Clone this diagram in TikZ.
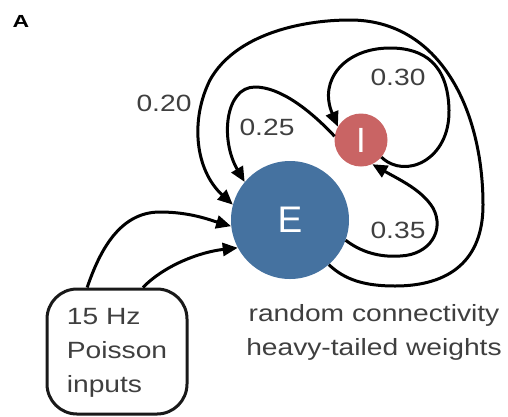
\documentclass[tikz,border=0pt]{standalone}
\usepackage{fontspec}
\setmainfont{Liberation Sans}
\usetikzlibrary{arrows.meta}
\definecolor{eblue}{HTML}{4572A0}
\definecolor{ired}{HTML}{C96464}
\definecolor{txtgray}{HTML}{3F3F3F}
\newcommand{\lbl}[1]{\scalebox{1.2}[1]{#1}}
\tikzset{
  conn/.style={line width=3pt, draw=black, -{Triangle[length=15pt,width=13pt]}},
  wlabel/.style={text=txtgray, font=\fontsize{23.5}{34}\selectfont, inner sep=0pt},
  popcircle/.style={circle, inner sep=0pt, text=white},
}
\begin{document}
\begin{tikzpicture}[x=1pt,y=-1pt]
\useasboundingbox (0,0) rectangle (508,416);
\node[inner sep=0pt] (A) at (21,21) {\scalebox{2.3}[1.75]{\bfseries A}};
\node[popcircle, fill=eblue, minimum size=118pt, font=\fontsize{37}{40}\selectfont] (E) at (290,220) {E};
\node[popcircle, fill=ired, minimum size=53pt, font=\fontsize{35}{40}\selectfont] (I) at (361,140) {I};
\node[wlabel, draw=black!90, line width=3pt, rounded corners=30pt, minimum width=140pt, minimum height=125pt] (P) at (117,351.5)
  {\lbl{\begin{tabular}{@{}l@{}}15 Hz\\Poisson\\inputs\end{tabular}}};
\node[wlabel, anchor=base] (cap) at (374,321)
  {\lbl{\begin{tabular}[t]{@{}c@{}}random connectivity\\heavy-tailed weights\end{tabular}}};
\node[wlabel] (l20) at (164,103) {\lbl{0.20}};
\node[wlabel] (l25) at (267,127) {\lbl{0.25}};
\node[wlabel] (l30) at (398,77) {\lbl{0.30}};
\node[wlabel] (l35) at (398,230) {\lbl{0.35}};
% E -> E (0.20)
\draw[conn] (E.-49) .. controls (345,280) and (365,286) .. (395,286)
  .. controls (450,286) and (483,260) .. (483,205)
  .. controls (483,110) and (440,20) .. (350,20)
  .. controls (300,20) and (235,35) .. (210,80)
  .. controls (190,120) and (195,170) .. (E.165);
% I -> E (0.25)
\draw[conn] (I.172) .. controls (310,110) and (280,87) .. (255,87)
  .. controls (225,87) and (220,140) .. (E.140);
% I -> I (0.30)
\draw[conn] (I.-40) .. controls (405,180) and (450,160) .. (449,110)
  .. controls (448,65) and (425,48) .. (390,48)
  .. controls (345,48) and (318,80) .. (I.150);
% E -> I (0.35)
\draw[conn] (E.-20) .. controls (365,255) and (385,257) .. (400,256)
  .. controls (430,255) and (445,230) .. (433,208)
  .. controls (422,190) and (400,180) .. (I.-65);
% Poisson -> E
\draw[conn] (P.115) .. controls (100,250) and (120,212) .. (160,212)
  .. controls (190,212) and (210,220) .. (E.186);
\draw[conn] (P.68) .. controls (165,265) and (200,252) .. (E.208);
\end{tikzpicture}
\end{document}
